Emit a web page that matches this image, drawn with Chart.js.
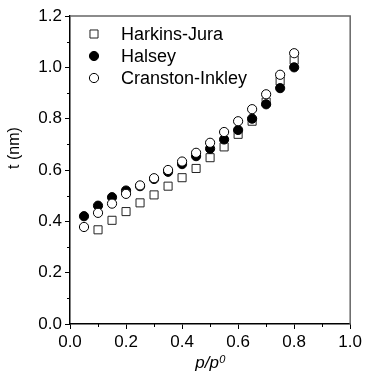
<!DOCTYPE html>
<html>
<head>
<meta charset="utf-8">
<script src="https://cdn.jsdelivr.net/npm/chart.js@4.4.0/dist/chart.umd.min.js"></script>
<style>
  html, body { margin: 0; padding: 0; background: #fff; }
  #wrap { width: 365px; height: 376px; }
</style>
</head>
<body>
<div id="wrap"><canvas id="tChart" width="365" height="376"></canvas></div>
<script>
// relative pressure p/p0
const pressure = [0.05, 0.10, 0.15, 0.20, 0.25, 0.30, 0.35, 0.40,
                  0.45, 0.50, 0.55, 0.60, 0.65, 0.70, 0.75, 0.80];
// film thickness t (nm) per model
const harkinsJura    = [null, 0.367, 0.404, 0.438, 0.472, 0.503, 0.537, 0.570,
                        0.606, 0.648, 0.690, 0.739, 0.790, 0.865, 0.947, 1.028];
const halsey         = [0.420, 0.461, 0.494, 0.520, 0.537, 0.565, 0.593, 0.623,
                        0.654, 0.683, 0.719, 0.756, 0.800, 0.856, 0.919, 1.000];
const cranstonInkley = [0.378, 0.433, 0.469, 0.507, 0.540, 0.568, 0.600, 0.633,
                        0.667, 0.706, 0.748, 0.790, 0.837, 0.895, 0.971, 1.055];

const xTicks = [0.0, 0.2, 0.4, 0.6, 0.8, 1.0];
const xMinorTicks = [0.1, 0.3, 0.5, 0.7, 0.9];
const yTicks = [0.0, 0.2, 0.4, 0.6, 0.8, 1.0, 1.2];
const yMinorTicks = [0.1, 0.3, 0.5, 0.7, 0.9, 1.1];

function toPoints(ys) {
    return pressure.map((x, i) => ({ x: x, y: ys[i] })).filter(p => p.y !== null);
}

const FONT = "'Liberation Sans', Arial, sans-serif";

// frame, minor ticks, axis titles and the legend inside the plot
const decorPlugin = {
    id: 'decor',
    afterDraw(chart) {
        const ctx = chart.ctx;
        const a = chart.chartArea;
        const xs = chart.scales.x, ys = chart.scales.y;
        ctx.save();

        // top / right frame
        ctx.strokeStyle = '#666';
        ctx.lineWidth = 1.5;
        ctx.beginPath();
        ctx.moveTo(a.left, a.top);
        ctx.lineTo(a.right, a.top);
        ctx.lineTo(a.right, a.bottom);
        ctx.stroke();

        // minor ticks
        ctx.strokeStyle = '#000';
        ctx.lineWidth = 1;
        ctx.beginPath();
        xMinorTicks.forEach(v => {
            const px = Math.round(xs.getPixelForValue(v)) + 0.5;
            ctx.moveTo(px, a.bottom);
            ctx.lineTo(px, a.bottom + 3);
        });
        yMinorTicks.forEach(v => {
            const py = Math.round(ys.getPixelForValue(v)) + 0.5;
            ctx.moveTo(a.left, py);
            ctx.lineTo(a.left - 3, py);
        });
        ctx.stroke();

        // axis titles
        ctx.fillStyle = '#000';
        ctx.textBaseline = 'middle';
        ctx.textAlign = 'center';
        ctx.save();
        ctx.translate(15, 148);
        ctx.rotate(-Math.PI / 2);
        ctx.font = '16px ' + FONT;
        ctx.fillText('t (nm)', 0, 0);
        ctx.restore();

        ctx.font = 'italic 17px ' + FONT;
        ctx.textAlign = 'left';
        ctx.textBaseline = 'alphabetic';
        const main = 'p/p';
        const w1 = ctx.measureText(main).width;
        ctx.font = 'italic 11px ' + FONT;
        const w2 = ctx.measureText('0').width;
        const cx = (a.left + a.right) / 2;
        const x0 = cx - (w1 + w2) / 2;
        ctx.font = 'italic 17px ' + FONT;
        ctx.fillText(main, x0, 368);
        ctx.font = 'italic 11px ' + FONT;
        ctx.fillText('0', x0 + w1 + 0.5, 363);

        // legend
        const items = chart.data.datasets;
        ctx.font = '18px ' + FONT;
        ctx.textBaseline = 'middle';
        items.forEach((ds, i) => {
            const ly = 34 + i * 22;
            ctx.fillStyle = ds.pointBackgroundColor;
            ctx.strokeStyle = ds.pointBorderColor;
            Chart.helpers.drawPoint(ctx, {
                pointStyle: ds.pointStyle,
                radius: ds.pointRadius,
                borderWidth: ds.pointBorderWidth,
                rotation: 0
            }, 94, ly);
            ctx.fillStyle = '#000';
            ctx.fillText(ds.label, 121, ly + 1);
        });
        ctx.restore();
    }
};

const axisCommon = {
    grid: {
        display: true,
        drawOnChartArea: false,
        drawTicks: true,
        tickLength: 5,
        tickColor: '#000',
        tickWidth: 1
    },
    border: { display: true, color: '#000', width: 1.5 },
    ticks: {
        color: '#000',
        font: { family: FONT, size: 17 },
        padding: 3,
        callback: v => Number(v).toFixed(1)
    }
};

new Chart(document.getElementById('tChart').getContext('2d'), {
    type: 'scatter',
    data: {
        datasets: [
            {
                label: 'Harkins-Jura',
                data: toPoints(harkinsJura),
                pointStyle: 'rect',
                pointRadius: 5.7,
                pointBorderWidth: 1,
                pointBackgroundColor: '#fff',
                pointBorderColor: '#222',
                order: 3
            },
            {
                label: 'Halsey',
                data: toPoints(halsey),
                pointStyle: 'circle',
                pointRadius: 4.6,
                pointBorderWidth: 1,
                pointBackgroundColor: '#000',
                pointBorderColor: '#000',
                order: 2
            },
            {
                label: 'Cranston-Inkley',
                data: toPoints(cranstonInkley),
                pointStyle: 'circle',
                pointRadius: 4.6,
                pointBorderWidth: 1,
                pointBackgroundColor: '#fff',
                pointBorderColor: '#000',
                order: 1
            }
        ]
    },
    options: {
        responsive: false,
        animation: false,
        layout: { padding: { top: 16, right: 11, left: 0, bottom: 0 } },
        plugins: { legend: { display: false }, tooltip: { enabled: false } },
        scales: {
            x: Object.assign({}, axisCommon, {
                type: 'linear',
                min: 0, max: 1.0,
                afterBuildTicks: s => { s.ticks = xTicks.map(v => ({ value: v })); },
                afterFit: s => { s.height = 52; }
            }),
            y: Object.assign({}, axisCommon, {
                type: 'linear',
                min: 0, max: 1.2,
                afterBuildTicks: s => { s.ticks = yTicks.map(v => ({ value: v })); },
                afterFit: s => { s.width = 70; }
            })
        }
    },
    plugins: [decorPlugin]
});
</script>
</body>
</html>
